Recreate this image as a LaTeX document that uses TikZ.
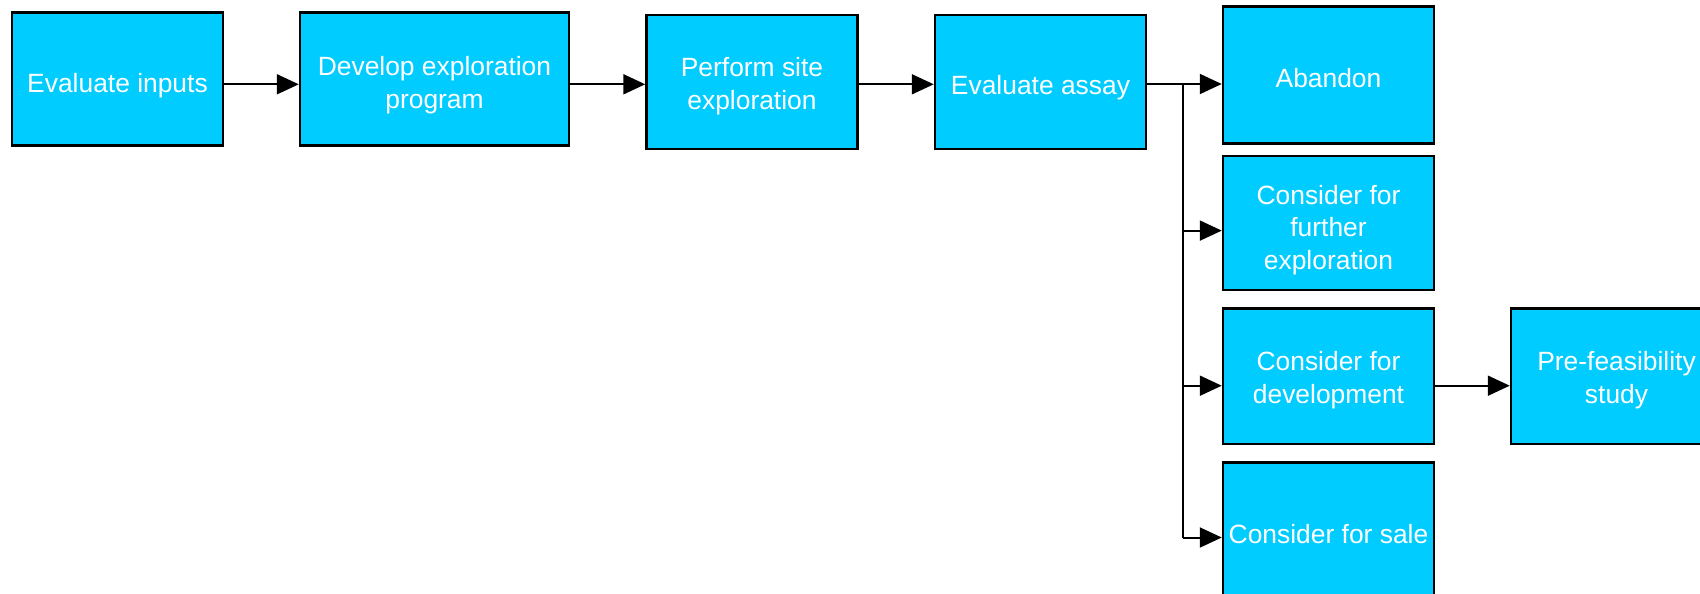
\documentclass[tikz,border=0pt]{standalone}
\usepackage{fontspec}
\setmainfont{Liberation Sans}
\usetikzlibrary{arrows.meta,calc}

\definecolor{boxfill}{RGB}{0,204,255}

\tikzset{
  stagebox/.style={
    draw=black, line width=2.5pt, fill=boxfill,
    inner sep=0pt,
    minimum width=211pt, minimum height=135pt
  },
  stagetext/.style={
    text=white, align=center, inner sep=0pt,
    font=\fontsize{26.4}{32.7}\selectfont
  },
  flow/.style={line width=2pt, -{Triangle[length=22pt,width=20pt]}},
  link/.style={line width=2pt}
}

\begin{document}
\begin{tikzpicture}[x=1pt,y=-1pt]
  \useasboundingbox (0,0) rectangle (1700,594);
  \clip (0,0) rectangle (1700,594);

  % main sequence
  \node[stagebox, minimum height=133.4pt,
        label={[stagetext, yshift=-7pt]center:Evaluate inputs}] (inputs) at (117.5,79) {};
  \node[stagebox, minimum height=133.4pt, minimum width=269pt,
        label={[stagetext, yshift=-6.5pt]center:Develop exploration\\program}] (program) at (434.5,79) {};
  \node[stagebox, minimum height=134pt,
        label={[stagetext, yshift=-4.5pt]center:Perform site\\exploration}] (site) at (752,82) {};
  \node[stagebox, minimum height=134pt,
        label={[stagetext, yshift=-5.5pt]center:Evaluate assay}] (assay) at (1040.5,82) {};

  % outcomes of the assay
  \node[stagebox, minimum height=137pt,
        label={[stagetext, yshift=-3.5pt]center:Abandon}] (abandon) at (1328.5,75) {};
  \node[stagebox, minimum height=134pt,
        label={[stagetext, yshift=-7pt]center:Consider for\\further\\exploration}] (further) at (1328.5,223) {};
  \node[stagebox, minimum height=135.5pt,
        label={[stagetext, yshift=-4pt]center:Consider for\\development}] (develop) at (1328.5,376) {};
  \node[stagebox, minimum height=136pt,
        label={[stagetext, yshift=-3.5pt]center:Consider for sale}] (sale) at (1328.5,530.5) {};
  \node[stagebox, minimum height=135.5pt,
        label={[stagetext, yshift=-4pt]center:Pre-feasibility\\study}] (prefeas) at (1616.5,376) {};

  % attachment points of the connectors
  \coordinate (rowA) at ([yshift=-5.3pt]inputs.east);
  \coordinate (inAbandon) at ([yshift=-9pt]abandon.west);
  \coordinate (inFurther) at ([yshift=-7.6pt]further.west);
  \coordinate (inDevelop) at ([yshift=-9.7pt]develop.west);
  \coordinate (inSale) at ([yshift=-7pt]sale.west);
  \coordinate (trunk) at ($(assay.east)!0.48!(abandon.west)$);

  % main sequence arrows
  \draw[flow] (rowA) -- (rowA -| program.west);
  \draw[flow] (rowA -| program.east) -- (rowA -| site.west);
  \draw[flow] (rowA -| site.east) -- (rowA -| assay.west);

  % branching from the assay
  \draw[flow] (assay.east |- inAbandon) -- (inAbandon);
  \draw[link] (trunk |- inAbandon) -- (trunk |- inSale);
  \draw[flow] (trunk |- inFurther) -- (inFurther);
  \draw[flow] (trunk |- inDevelop) -- (inDevelop);
  \draw[flow] (trunk |- inSale) -- (inSale);

  % development leads on
  \draw[flow] (develop.east |- inDevelop) -- (prefeas.west |- inDevelop);
\end{tikzpicture}
\end{document}
